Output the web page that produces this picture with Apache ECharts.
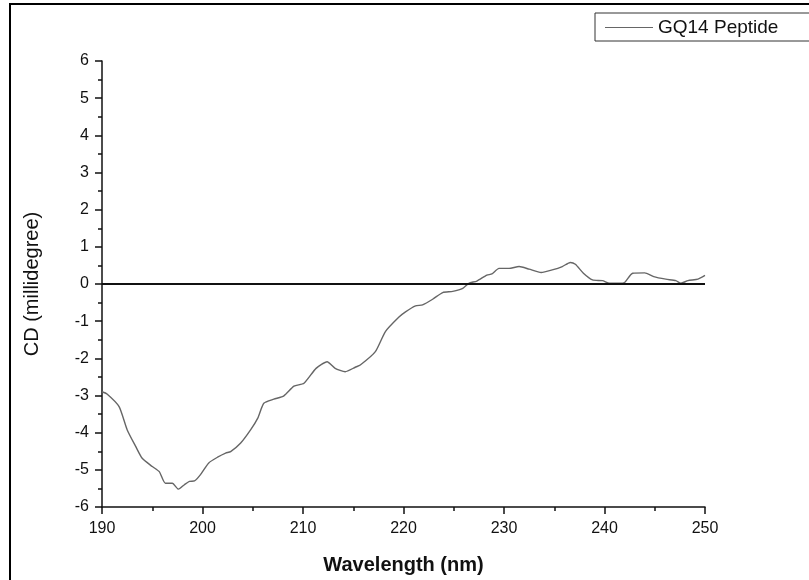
<!DOCTYPE html>
<html>
<head>
<meta charset="utf-8">
<script src="https://cdn.jsdelivr.net/npm/echarts@6/dist/echarts.min.js"></script>
<style>
  html, body { margin: 0; padding: 0; background: #fff; }
  #chart { width: 809px; height: 580px; }
</style>
</head>
<body>
<div id="chart"></div>
<script>
// wavelength (nm) and CD signal (millidegree)
const wavelengths = [190, 190.5, 191.7, 192.5, 193.35, 194, 195, 195.7, 196.3, 197, 197.6, 198.2, 198.7, 199.2, 199.8,
  200.6, 201.5, 202.3, 202.8, 203.8, 204.8, 205.5, 206.1, 207.1, 208.1, 209.1, 210.1, 211.3, 212.4, 213.2,
  214.2, 215.2, 215.7, 217.2, 218.2, 219.55, 220.2, 221.2, 221.9, 222.9, 223.9, 224.9, 225.9, 226.5, 227.3,
  228.3, 228.8, 229.5, 230.5, 231.5, 232.5, 233.7, 234.8, 235.8, 236.6, 237.1, 237.9, 238.8, 239.8, 240.5,
  241.5, 242, 242.8, 244, 244.9, 246.1, 247.1, 247.6, 248.3, 249.3, 250];
const cdValues = [-2.9, -2.96, -3.3, -3.92, -4.37, -4.69, -4.91, -5.05, -5.36, -5.36, -5.52, -5.40, -5.31, -5.30, -5.13,
  -4.82, -4.66, -4.55, -4.51, -4.28, -3.92, -3.61, -3.21, -3.10, -3.01, -2.75, -2.67, -2.27, -2.09, -2.27,
  -2.36, -2.24, -2.18, -1.82, -1.28, -0.89, -0.75, -0.59, -0.56, -0.41, -0.23, -0.2, -0.12, 0.02, 0.08,
  0.24, 0.27, 0.42, 0.42, 0.47, 0.40, 0.31, 0.38, 0.47, 0.58, 0.53, 0.29, 0.11, 0.09, 0.02,
  0.02, 0.04, 0.29, 0.30, 0.20, 0.13, 0.09, 0.02, 0.09, 0.13, 0.23];
const seriesName = "GQ14 Peptide";

let chart = echarts.init(document.getElementById("chart"));
const font = "'Liberation Sans', Arial, sans-serif";

chart.setOption({
  backgroundColor: "#fff",
  animation: false,
  textStyle: { fontFamily: font },
  grid: { left: 102, right: 104, top: 61, bottom: 73 },
  legend: {
    data: [{ name: seriesName, icon: "rect" }],
    left: 595,
    top: 13,
    padding: [5, 60, 4, 10],
    itemWidth: 48,
    itemHeight: 1,
    itemGap: 6,
    borderColor: "#333",
    borderWidth: 1,
    textStyle: { fontSize: 19, color: "#111", fontFamily: font },
  },
  graphic: [
    {
      type: "rect",
      shape: { x: 10, y: 4, width: 820, height: 600 },
      style: { fill: "none", stroke: "#000", lineWidth: 2 },
      silent: true,
    },
  ],
  xAxis: {
    type: "value",
    min: 190,
    max: 250,
    interval: 10,
    name: "Wavelength (nm)",
    nameLocation: "middle",
    nameGap: 48,
    nameTextStyle: { fontSize: 20, fontWeight: "bold", color: "#111", fontFamily: font },
    axisLine: { onZero: false, lineStyle: { color: "#111", width: 1.5 } },
    axisTick: { show: true, inside: false, length: 7, lineStyle: { color: "#111", width: 1.5 } },
    minorTick: { show: true, splitNumber: 2, length: 4, lineStyle: { color: "#111", width: 1.5 } },
    axisLabel: { fontSize: 16, color: "#111", margin: 14 },
    splitLine: { show: false },
  },
  yAxis: {
    type: "value",
    min: -6,
    max: 6,
    interval: 1,
    name: "CD (millidegree)",
    nameLocation: "middle",
    nameGap: 60,
    nameTextStyle: { fontSize: 20, color: "#111", fontFamily: font },
    axisLine: { show: true, onZero: false, lineStyle: { color: "#111", width: 1.5 } },
    axisTick: { show: true, inside: false, length: 7, lineStyle: { color: "#111", width: 1.5 } },
    minorTick: { show: true, splitNumber: 2, length: 4, lineStyle: { color: "#111", width: 1.5 } },
    axisLabel: { fontSize: 16, color: "#111", margin: 13 },
    splitLine: { show: false },
  },
  series: [
    {
      name: seriesName,
      type: "line",
      data: wavelengths.map((w, i) => [w, cdValues[i]]),
      symbol: "none",
      smooth: 0.2,
      lineStyle: { color: "#666", width: 1.4 },
      itemStyle: { color: "#666" },
      markLine: {
        silent: true,
        symbol: "none",
        label: { show: false },
        lineStyle: { color: "#111", width: 2, type: "solid" },
        data: [{ yAxis: 0 }],
      },
    },
  ],
});
</script>
</body>
</html>
